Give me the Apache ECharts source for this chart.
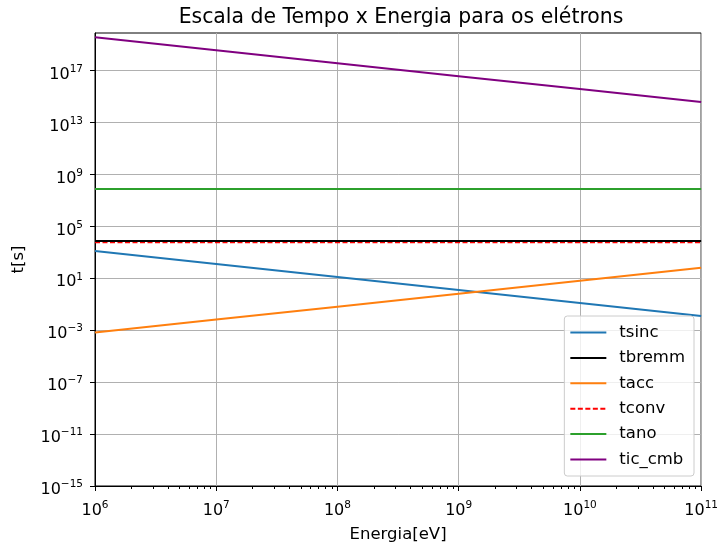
<!DOCTYPE html>
<html>
<head>
<meta charset="utf-8">
<script src="https://cdn.jsdelivr.net/npm/echarts@6/dist/echarts.min.js"></script>
<style>html,body{margin:0;padding:0;background:#fff}#c{width:721px;height:550px}</style>
</head>
<body>
<div id="c"></div>
<script>
// ---- data ----
var energy = [1e6, 1e7, 1e8, 1e9, 1e10, 1e11];
var tsinc  = [1.26e3, 1.26e2, 1.26e1, 1.26, 0.126, 0.0126];
var tbremm = [7.4e3, 7.4e3, 7.4e3, 7.4e3, 7.4e3, 7.4e3];
var tacc   = [6.6e-4, 6.6e-3, 6.6e-2, 0.66, 6.6, 66];
var tconv  = [5.6e3, 5.6e3, 5.6e3, 5.6e3, 5.6e3, 5.6e3];
var tano   = [7.6e7, 7.6e7, 7.6e7, 7.6e7, 7.6e7, 7.6e7];
var tic_cmb = [3.8e19, 3.8e18, 3.8e17, 3.8e16, 3.8e15, 3.8e14];
var xTicks = [1e6, 1e7, 1e8, 1e9, 1e10, 1e11];
var xMinorTicks = [2e6,3e6,4e6,5e6,6e6,7e6,8e6,9e6,2e7,3e7,4e7,5e7,6e7,7e7,8e7,9e7,2e8,3e8,4e8,5e8,6e8,7e8,8e8,9e8,2e9,3e9,4e9,5e9,6e9,7e9,8e9,9e9,2e10,3e10,4e10,5e10,6e10,7e10,8e10,9e10];
var yTicks = [1e-15, 1e-11, 1e-7, 1e-3, 1e1, 1e5, 1e9, 1e13, 1e17];
var seriesNames = ['tsinc', 'tbremm', 'tacc', 'tconv', 'tano', 'tic_cmb'];

function pairs(ys) { return energy.map(function (x, i) { return [x, ys[i]]; }); }
function sup(v) {
  var e = Math.round(Math.log10(v));
  var s = (e < 0 ? '\u2212' + (-e) : '' + e);
  return '{b|10}{s|' + s + '}';
}
var FONT = 'DejaVu Sans';
var labelRich = {
  b: { fontFamily: FONT, fontSize: 16, color: '#000', verticalAlign: 'bottom', lineHeight: 24 },
  s: { fontFamily: FONT, fontSize: 10.5, color: '#000', verticalAlign: 'bottom', lineHeight: 24, padding: [0, 0, 8, 0] }
};

var chart = echarts.init(document.getElementById('c'), null, { renderer: 'canvas' });
var lw = 2;
chart.setOption({
  animation: false,
  backgroundColor: '#fff',
  textStyle: { fontFamily: FONT },
  title: {
    text: 'Escala de Tempo x Energia para os elétrons',
    left: 396, top: 3, textAlign: 'center',
    textStyle: { fontFamily: FONT, fontSize: 20.4, fontWeight: 'normal', color: '#000' }
  },
  grid: { left: 95, right: 19, top: 33, bottom: 64, show: true, borderColor: '#000', borderWidth: 1, backgroundColor: 'transparent' },
  legend: {
    orient: 'vertical', right: 27, bottom: 74,
    data: seriesNames,
    itemWidth: 36, itemHeight: 16, itemGap: 8.4,
    padding: [8, 9, 8, 5],
    itemStyle: { opacity: 0 },
    backgroundColor: 'rgba(255,255,255,0.8)', borderColor: '#cccccc', borderWidth: 1, borderRadius: 3,
    textStyle: { fontFamily: FONT, fontSize: 16.5, lineHeight: 16, color: '#000', padding: [0, 0, 0, 8] }
  },
  xAxis: [{
    type: 'log', logBase: 10, min: 1e6, max: 1e11,
    name: 'Energia[eV]', nameLocation: 'middle', nameGap: 40,
    nameTextStyle: { fontFamily: FONT, fontSize: 16.5, color: '#000' },
    axisLine: { show: true, onZero: false, lineStyle: { color: '#000', width: 1 } },
    axisTick: { show: true, inside: false, length: 5, customValues: xTicks, lineStyle: { color: '#000', width: 1 } },
    axisLabel: { show: true, customValues: xTicks, margin: 9, formatter: function (v) { return sup(v); }, rich: labelRich },
    splitLine: { show: true, lineStyle: { color: '#b0b0b0', width: 1 } },
    minorTick: { show: false }
  }, {
    type: 'log', logBase: 10, min: 1e6, max: 1e11, position: 'bottom',
    axisLine: { show: false },
    axisTick: { show: true, length: 3, customValues: xMinorTicks, lineStyle: { color: '#000', width: 1 } },
    axisLabel: { show: false },
    splitLine: { show: false }
  }],
  yAxis: {
    type: 'log', logBase: 10, min: 1e-15, max: 8e19,
    name: 't[s]', nameLocation: 'middle', nameGap: 68, nameRotate: 90,
    nameTextStyle: { fontFamily: FONT, fontSize: 16.5, color: '#000' },
    axisLine: { show: true, onZero: false, lineStyle: { color: '#000', width: 1 } },
    axisTick: { show: true, length: 5, customValues: yTicks, lineStyle: { color: '#000', width: 1 } },
    axisLabel: { show: true, customValues: yTicks, margin: 12, formatter: function (v) { return sup(v); }, rich: labelRich },
    splitLine: { show: true, lineStyle: { color: '#b0b0b0', width: 1 } }
  },
  series: [
    { name: 'tsinc', type: 'line', data: pairs(tsinc), showSymbol: false, symbol: 'none', color: '#1f77b4', lineStyle: { width: lw, color: '#1f77b4' } },
    { name: 'tbremm', type: 'line', data: pairs(tbremm), showSymbol: false, symbol: 'none', color: '#000000', lineStyle: { width: lw, color: '#000000' } },
    { name: 'tacc', type: 'line', data: pairs(tacc), showSymbol: false, symbol: 'none', color: '#ff7f0e', lineStyle: { width: lw, color: '#ff7f0e' } },
    { name: 'tconv', type: 'line', data: pairs(tconv), showSymbol: false, symbol: 'none', color: '#ff0000', lineStyle: { width: 1.4, color: '#ff0000', type: [5, 2.5] } },
    { name: 'tano', type: 'line', data: pairs(tano), showSymbol: false, symbol: 'none', color: '#2ca02c', lineStyle: { width: lw, color: '#2ca02c' } },
    { name: 'tic_cmb', type: 'line', data: pairs(tic_cmb), showSymbol: false, symbol: 'none', color: '#800080', lineStyle: { width: lw, color: '#800080' } }
  ]
});
</script>
</body>
</html>
